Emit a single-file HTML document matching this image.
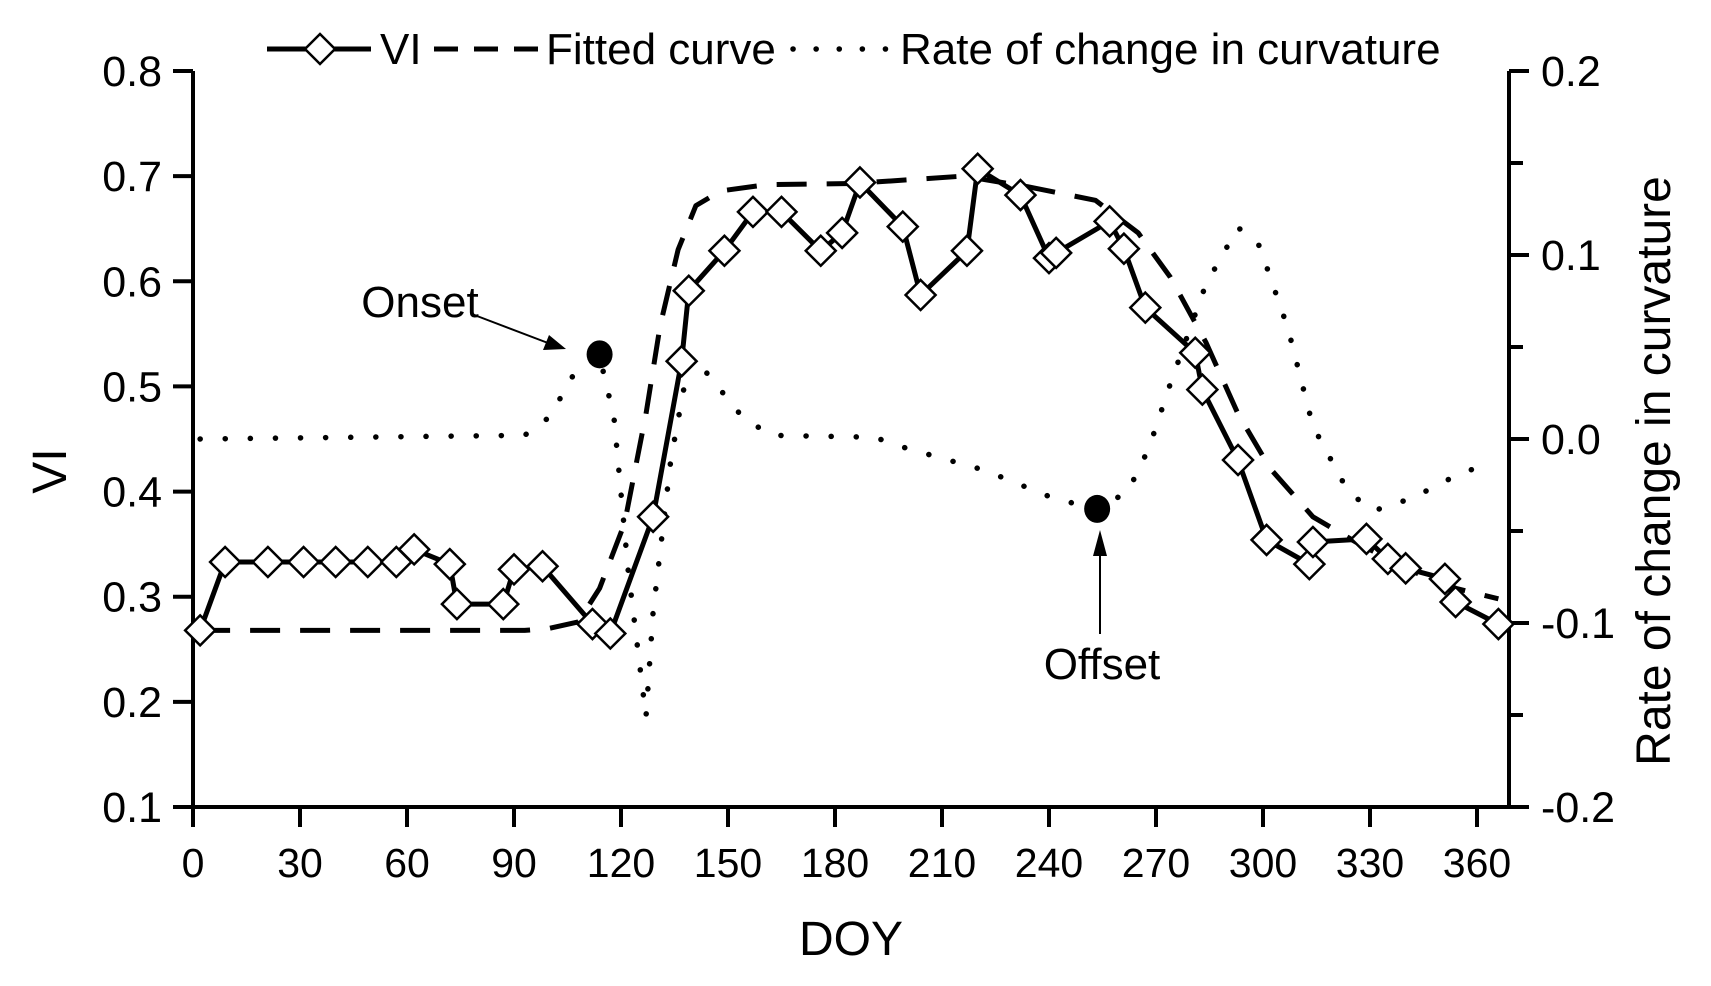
<!DOCTYPE html>
<html><head><meta charset="utf-8"><style>
html,body{margin:0;padding:0;background:#fff;}
svg{display:block;font-family:"Liberation Sans",Arial,sans-serif;}
</style></head><body>
<svg id="chart" width="1711" height="986" viewBox="0 0 1711 986">
<g id="axes"></g><g id="series"></g><g id="annot"></g><g id="legend"></g>
</svg>
<script>
const viDays=[2,9,21,31,40,49,57,62,72,74,87,90,98,112,117,129,137,139,149,157,165,176,182,187,199,204,217,220,232,240,242,257,261,267,281,283,293,301,313,314,329,335,340,351,354,366];
const viValues=[.268,.333,.333,.333,.333,.333,.333,.345,.331,.293,.293,.326,.329,.274,.265,.376,.524,.591,.629,.666,.666,.629,.646,.694,.652,.587,.629,.707,.682,.622,.627,.657,.631,.575,.532,.497,.43,.354,.331,.352,.355,.336,.327,.317,.295,.274];
const fitDays=[2,93,100,108,114,121,127,131,136,141,148,161,185,216,234,253,265,274,284,293,302,314,327,342,354,366];
const fitValues=[.268,.268,.27,.276,.308,.37,.474,.558,.63,.672,.686,.692,.693,.7,.69,.677,.646,.604,.542,.474,.422,.376,.35,.324,.308,.298];
const rateDays=[2,93,100,107,114,118,122,127,129,134,139,144,154,162,191,200,222,241,253,262,268,274,284,293,299,307,314,324,331,342,354,362];
const rateValues=[0,.002,.012,.036,.045,.012,-.071,-.151,-.094,-.011,.042,.036,.012,.002,.001,-.005,-.017,-.032,-.038,-.029,-.005,.03,.084,.115,.105,.06,.007,-.029,-.039,-.032,-.02,-.014];
const xTicks=[0,30,60,90,120,150,180,210,240,270,300,330,360];
const yTicks=[0.1,0.2,0.3,0.4,0.5,0.6,0.7,0.8];
const y2Ticks=[-0.2,-0.1,0.0,0.1,0.2];
const onset=[114,0.046], offset=[253.5,-0.038];

const X0=193,X1=1509,Y0=807,Y1=71;
const x=d=>X0+d*(1284/360);
const y=v=>Y0-(v-0.1)/0.7*(Y0-Y1);
const y2=v=>Y0-(v+0.2)/0.4*(Y0-Y1);
const NS='http://www.w3.org/2000/svg';
function mk(tag,attrs,parent,text){const e=document.createElementNS(NS,tag);for(const k in attrs)e.setAttribute(k,attrs[k]);if(text!=null)e.textContent=text;document.getElementById(parent).appendChild(e);return e;}

let e;
e=mk('path',{d:`M${X0},${Y1}V${Y0}H${X1}V${Y1}`,fill:'none',stroke:'#000','stroke-width':4},'axes');


xTicks.forEach(t=>{
 e=mk('line',{x1:x(t),x2:x(t),y1:Y0,y2:Y0+20,stroke:'#000','stroke-width':4},'axes');
 
 
 e=mk('text',{x:x(t),y:877,'font-size':41,'text-anchor':'middle'},'axes',t);
 
 
});
yTicks.forEach(t=>{
 e=mk('line',{x1:X0-20,x2:X0,y1:y(t),y2:y(t),stroke:'#000','stroke-width':4},'axes');
 
 
 e=mk('text',{x:162,y:y(t)+15,'font-size':43,'text-anchor':'end'},'axes',t.toFixed(1));
 
 
});
for(let v=-0.2;v<=0.2001;v+=0.05){
 const major=Math.abs(Math.round(v*20))%2===0;
 e=mk('line',{x1:X1,x2:X1+(major?20:14),y1:y2(v),y2:y2(v),stroke:'#000','stroke-width':4},'axes');
 
 
}
y2Ticks.forEach(t=>{
 e=mk('text',{x:1541,y:y2(t)+15,'font-size':43},'axes',t.toFixed(1));
 
 
});
e=mk('text',{x:851,y:955,'font-size':48,'text-anchor':'middle'},'axes','DOY');


e=mk('text',{x:66,y:471,'font-size':48,'text-anchor':'middle',transform:'rotate(-90 66 471)'},'axes','VI');


e=mk('text',{x:1670,y:471,'font-size':48,'text-anchor':'middle',transform:'rotate(-90 1670 471)'},'axes','Rate of change in curvature');



const pts=(ds,vs,f)=>ds.map((d,i)=>`${x(d).toFixed(1)},${f(vs[i]).toFixed(1)}`).join(' ');
e=mk('polyline',{points:pts(rateDays,rateValues,y2),fill:'none',stroke:'#000','stroke-width':5.5,'stroke-dasharray':'0.1 25','stroke-linecap':'round','stroke-linejoin':'round'},'series');


e=mk('polyline',{points:pts(fitDays,fitValues,y),fill:'none',stroke:'#000','stroke-width':5,'stroke-dasharray':'30 20','stroke-linejoin':'round'},'series');


e=mk('polyline',{points:pts(viDays,viValues,y),fill:'none',stroke:'#000','stroke-width':5,'stroke-linejoin':'round'},'series');


viDays.forEach((d,i)=>{
 const cx=x(d),cy=y(viValues[i]),r=15;
 e=mk('polygon',{points:`${cx},${cy-r} ${cx+r},${cy} ${cx},${cy+r} ${cx-r},${cy}`,fill:'#fff',stroke:'#000','stroke-width':2.5},'series');
 
 
});

e=mk('ellipse',{cx:x(onset[0]),cy:y2(onset[1]),rx:13,ry:14,fill:'#000'},'annot');


e=mk('ellipse',{cx:x(offset[0]),cy:y2(offset[1]),rx:13,ry:14,fill:'#000'},'annot');


e=mk('text',{x:420,y:317,'font-size':44,'text-anchor':'middle'},'annot','Onset');


e=mk('line',{x1:477,y1:316,x2:548,y2:343,stroke:'#000','stroke-width':2},'annot');


e=mk('polygon',{points:'566,349 543,350 549,335',fill:'#000'},'annot');


e=mk('text',{x:1102,y:679,'font-size':44,'text-anchor':'middle'},'annot','Offset');


e=mk('line',{x1:1100,y1:634,x2:1100,y2:550,stroke:'#000','stroke-width':2},'annot');


e=mk('polygon',{points:'1100,530 1093,556 1107,556',fill:'#000'},'annot');



e=mk('line',{x1:267,x2:371,y1:49,y2:49,stroke:'#000','stroke-width':5},'legend');


e=mk('polygon',{points:'320,34 335,49 320,64 305,49',fill:'#fff',stroke:'#000','stroke-width':2.5},'legend');


e=mk('text',{x:380,y:64,'font-size':44},'legend','VI');


e=mk('line',{x1:434,x2:542,y1:49,y2:49,stroke:'#000','stroke-width':5,'stroke-dasharray':'24 16'},'legend');


e=mk('text',{x:546,y:64,'font-size':44},'legend','Fitted curve');


e=mk('line',{x1:793,x2:886,y1:49,y2:49,stroke:'#000','stroke-width':5.5,'stroke-dasharray':'0.1 23','stroke-linecap':'round'},'legend');


e=mk('text',{x:900,y:64,'font-size':44},'legend','Rate of change in curvature');


</script>
</body></html>
